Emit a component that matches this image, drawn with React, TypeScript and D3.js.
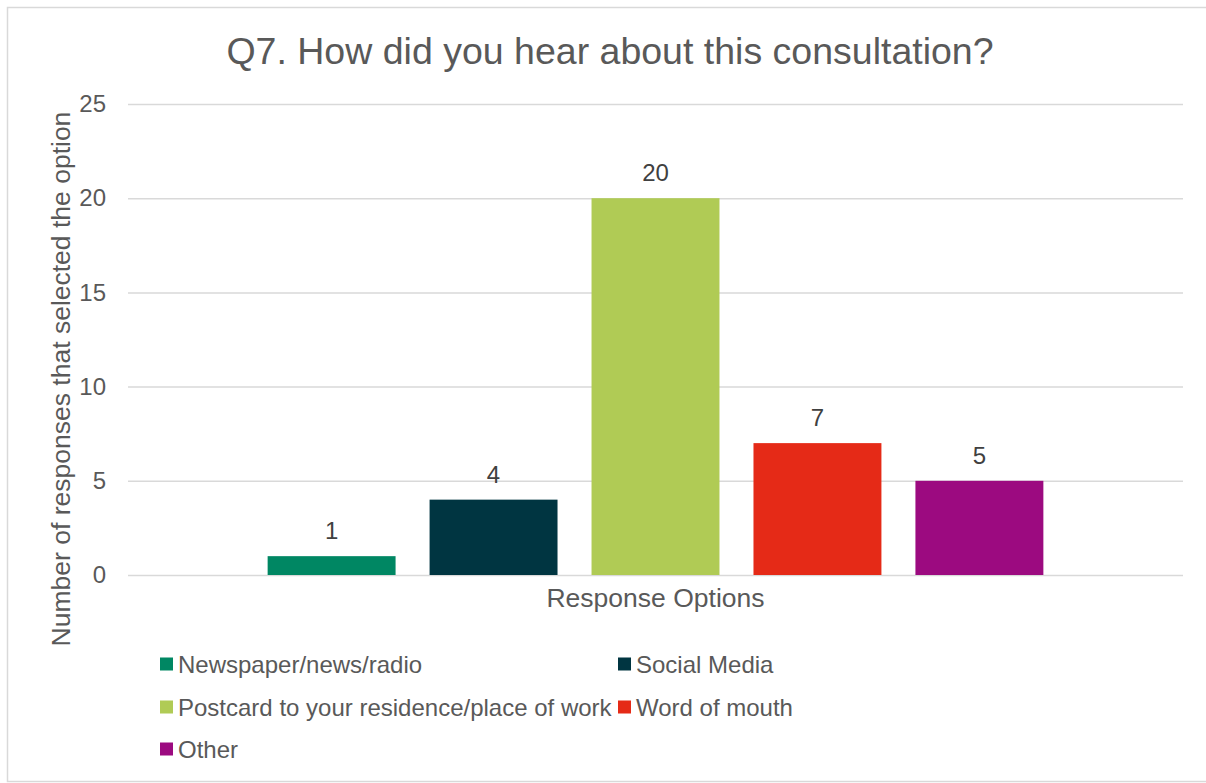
import React, { useEffect, useRef } from "react";
import * as d3 from "d3";

const categories = ["Response Options"];
const seriesNames = [
  "Newspaper/news/radio",
  "Social Media",
  "Postcard to your residence/place of work",
  "Word of mouth",
  "Other",
];
const seriesValues = [1, 4, 20, 7, 5];
const seriesColors = ["#008763", "#003541", "#B0CB55", "#E52A17", "#9C0A80"];
const yTicks = [0, 5, 10, 15, 20, 25];

const WIDTH = 1206;
const HEIGHT = 783;
const TEXT = "#595959";
const FONT = "'Liberation Sans', Arial, sans-serif";

export default function App() {
  const svgRef = useRef<SVGSVGElement>(null);

  useEffect(() => {
    const svg = d3.select(svgRef.current);
    svg.selectAll("*").remove();

    const plot = { left: 128, right: 1183, top: 104, bottom: 575 };

    // chart border
    svg
      .append("rect")
      .attr("x", 7.5)
      .attr("y", 7.5)
      .attr("width", 1206)
      .attr("height", 774)
      .attr("fill", "#fff")
      .attr("stroke", "#D9D9D9")
      .attr("stroke-width", 1.5);

    // title
    svg
      .append("text")
      .attr("x", 610)
      .attr("y", 64)
      .attr("text-anchor", "middle")
      .style("font-family", FONT)
      .style("font-size", "37.5px")
      .style("fill", TEXT)
      .text("Q7. How did you hear about this consultation?");

    const y = d3.scaleLinear().domain([0, 25]).range([plot.bottom, plot.top]);

    const x0 = d3
      .scaleBand()
      .domain(categories)
      .range([plot.left, plot.right])
      .paddingInner(0)
      .paddingOuter(0.18);

    const x1 = d3
      .scaleBand()
      .domain(seriesNames)
      .range([0, x0.bandwidth()])
      .paddingInner(0.21)
      .paddingOuter(0);

    // gridlines + tick labels
    const yAxis = d3
      .axisLeft(y)
      .tickValues(yTicks)
      .tickSize(-(plot.right - plot.left))
      .tickPadding(22)
      .tickFormat(d3.format("d"));

    const yg = svg
      .append("g")
      .attr("transform", `translate(${plot.left},0)`)
      .call(yAxis);
    yg.select(".domain").remove();
    yg.selectAll("line").style("stroke", "#D9D9D9").style("stroke-width", 1.5);
    yg.selectAll("text")
      .style("font-family", FONT)
      .style("font-size", "24px")
      .style("fill", TEXT);

    // bars
    const g = svg.append("g").attr("transform", `translate(${x0(categories[0])},0)`);
    g.selectAll("rect.bar")
      .data(seriesValues)
      .enter()
      .append("rect")
      .attr("class", "bar")
      .attr("x", (_d, i) => x1(seriesNames[i]) as number)
      .attr("y", (d) => y(d))
      .attr("width", x1.bandwidth())
      .attr("height", (d) => y(0) - y(d))
      .attr("fill", (_d, i) => seriesColors[i]);

    g.selectAll("text.val")
      .data(seriesValues)
      .enter()
      .append("text")
      .attr("class", "val")
      .attr("x", (_d, i) => (x1(seriesNames[i]) as number) + x1.bandwidth() / 2)
      .attr("y", (d) => y(d) - 17)
      .attr("text-anchor", "middle")
      .style("font-family", FONT)
      .style("font-size", "24px")
      .style("fill", "#404040")
      .text((d) => String(d));

    // category label
    svg
      .append("text")
      .attr("x", (x0(categories[0]) as number) + x0.bandwidth() / 2)
      .attr("y", 607)
      .attr("text-anchor", "middle")
      .style("font-family", FONT)
      .style("font-size", "26.5px")
      .style("fill", TEXT)
      .text(categories[0]);

    // y axis title
    svg
      .append("text")
      .attr("transform", `translate(70,${(110 + 648) / 2}) rotate(-90)`)
      .attr("text-anchor", "middle")
      .style("font-family", FONT)
      .style("font-size", "26.5px")
      .style("fill", TEXT)
      .text("Number of responses that selected the option");

    // legend
    const legendPos = [
      [160, 664],
      [618, 664],
      [160, 707],
      [618, 707],
      [160, 749],
    ];
    const lg = svg
      .selectAll("g.legend")
      .data(seriesNames)
      .enter()
      .append("g")
      .attr("class", "legend")
      .attr("transform", (_d, i) => `translate(${legendPos[i][0]},${legendPos[i][1]})`);
    lg.append("rect")
      .attr("x", 0)
      .attr("y", -6.5)
      .attr("width", 13)
      .attr("height", 13)
      .attr("fill", (_d, i) => seriesColors[i]);
    lg.append("text")
      .attr("x", 18)
      .attr("y", 8.5)
      .style("font-family", FONT)
      .style("font-size", "24px")
      .style("fill", TEXT)
      .text((d) => d);
  }, []);

  return (
    <svg
      ref={svgRef}
      width={WIDTH}
      height={HEIGHT}
      style={{ position: "absolute", left: 0, top: 0, display: "block" }}
    />
  );
}
